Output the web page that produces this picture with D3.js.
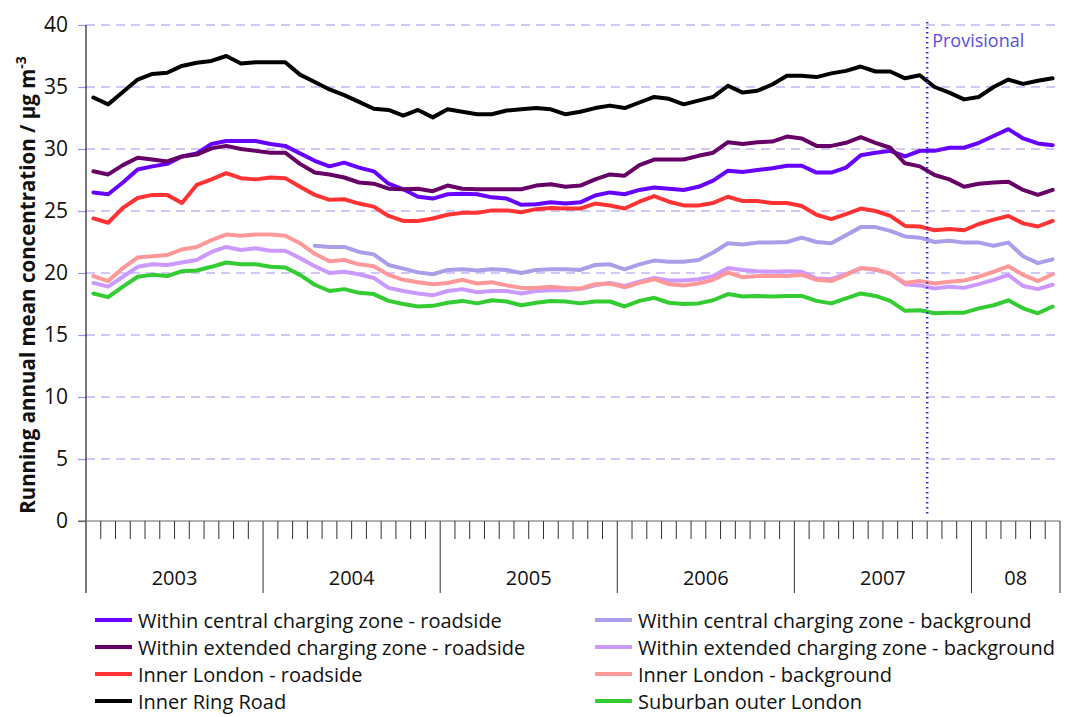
<!DOCTYPE html>
<html>
<head>
<meta charset="utf-8">
<script src="https://cdn.jsdelivr.net/npm/d3@7"></script>
<style>
  html, body { margin: 0; padding: 0; background: #fff; }
  svg { display: block; font-family: "Open Sans", "DejaVu Sans", sans-serif; }
</style>
</head>
<body>
<svg id="chart" width="1071" height="717"></svg>
<script>
// Running annual mean concentrations, monthly Jan 2003 – Jun 2008
const years = ["2003", "2004", "2005", "2006", "2007", "08"];
const monthsPerYear = [12, 12, 12, 12, 12, 6];
const yTicks = [0, 5, 10, 15, 20, 25, 30, 35, 40];
const provisionalFromMonth = 57; // Oct 2007

const centralRoadside = [26.5,26.35,27.3,28.35,28.6,28.8,29.4,29.65,30.4,30.65,30.65,30.65,30.4,30.25,29.65,29.05,28.6,28.9,28.5,28.2,27.2,26.75,26.15,26.0,26.35,26.4,26.35,26.1,26.0,25.5,25.55,25.7,25.6,25.7,26.25,26.5,26.35,26.7,26.9,26.8,26.7,26.95,27.45,28.25,28.15,28.3,28.45,28.65,28.65,28.1,28.1,28.5,29.5,29.7,29.85,29.4,29.85,29.85,30.1,30.1,30.5,31.05,31.6,30.85,30.45,30.3];
const centralBackground = [null,null,null,null,null,null,null,null,null,null,null,null,null,null,null,22.2,22.1,22.1,21.7,21.5,20.65,20.35,20.05,19.9,20.25,20.3,20.2,20.3,20.25,20.0,20.25,20.3,20.3,20.25,20.65,20.7,20.3,20.7,21.0,20.9,20.9,21.05,21.65,22.4,22.3,22.45,22.45,22.5,22.85,22.5,22.4,23.05,23.7,23.7,23.4,22.95,22.85,22.5,22.6,22.45,22.45,22.2,22.45,21.35,20.8,21.1];
const extendedRoadside = [28.2,27.95,28.7,29.3,29.15,29.0,29.4,29.55,30.05,30.25,30.0,29.85,29.7,29.7,28.8,28.1,27.95,27.7,27.3,27.2,26.8,26.75,26.8,26.6,27.05,26.8,26.75,26.75,26.75,26.75,27.05,27.15,26.95,27.05,27.55,27.95,27.85,28.7,29.15,29.15,29.15,29.45,29.7,30.55,30.4,30.55,30.6,31.0,30.85,30.25,30.25,30.5,30.95,30.5,30.1,28.85,28.6,27.9,27.55,26.95,27.2,27.3,27.35,26.7,26.3,26.7];
const extendedBackground = [19.2,18.9,19.7,20.5,20.7,20.65,20.85,21.05,21.7,22.1,21.85,22.0,21.8,21.8,21.2,20.55,20.0,20.1,19.9,19.6,18.8,18.55,18.35,18.2,18.55,18.7,18.45,18.55,18.55,18.35,18.55,18.6,18.6,18.7,19.0,19.2,18.95,19.3,19.6,19.4,19.4,19.5,19.75,20.4,20.25,20.15,20.1,20.15,20.1,19.55,19.5,19.9,20.4,20.25,19.95,19.1,19.0,18.75,18.9,18.8,19.1,19.45,19.85,18.95,18.7,19.05];
const innerRoadside = [24.4,24.05,25.25,26.05,26.3,26.3,25.65,27.1,27.55,28.05,27.65,27.55,27.7,27.65,26.95,26.3,25.9,25.95,25.6,25.35,24.6,24.2,24.2,24.4,24.7,24.85,24.85,25.05,25.05,24.9,25.15,25.25,25.2,25.2,25.6,25.45,25.2,25.75,26.2,25.75,25.45,25.45,25.65,26.15,25.8,25.8,25.65,25.65,25.4,24.7,24.35,24.75,25.2,25.0,24.6,23.8,23.75,23.45,23.55,23.45,23.95,24.3,24.6,24.0,23.75,24.2];
const innerBackground = [19.75,19.35,20.4,21.25,21.35,21.45,21.9,22.1,22.65,23.1,23.0,23.1,23.1,23.0,22.4,21.55,20.95,21.05,20.7,20.55,19.85,19.45,19.25,19.1,19.2,19.45,19.15,19.25,19.0,18.8,18.8,18.9,18.8,18.75,19.1,19.15,18.85,19.2,19.5,19.1,19.0,19.15,19.45,20.05,19.65,19.75,19.75,19.75,19.85,19.45,19.35,19.85,20.4,20.3,19.95,19.2,19.35,19.15,19.3,19.4,19.7,20.1,20.55,19.85,19.35,19.9];
const innerRingRoad = [34.15,33.6,34.6,35.6,36.05,36.15,36.7,36.95,37.1,37.5,36.9,37.0,37.0,37.0,36.0,35.4,34.8,34.35,33.8,33.25,33.15,32.7,33.15,32.55,33.2,33.0,32.8,32.8,33.1,33.2,33.3,33.2,32.8,33.0,33.3,33.5,33.3,33.75,34.2,34.05,33.6,33.9,34.2,35.1,34.55,34.7,35.2,35.9,35.9,35.8,36.1,36.3,36.65,36.25,36.25,35.7,35.95,35.0,34.55,34.0,34.2,35.0,35.6,35.25,35.5,35.7];
const suburbanOuter = [18.35,18.05,18.9,19.7,19.85,19.75,20.15,20.2,20.5,20.85,20.7,20.7,20.5,20.45,19.85,19.05,18.55,18.7,18.4,18.3,17.75,17.5,17.3,17.35,17.6,17.75,17.55,17.8,17.7,17.4,17.6,17.75,17.7,17.55,17.7,17.7,17.3,17.75,18.0,17.6,17.5,17.55,17.8,18.3,18.1,18.15,18.1,18.15,18.15,17.75,17.55,17.95,18.35,18.15,17.75,16.95,17.0,16.75,16.8,16.8,17.15,17.4,17.8,17.15,16.75,17.3];

const seriesNames = [
  "Within central charging zone - roadside",
  "Within central charging zone - background",
  "Within extended charging zone - roadside",
  "Within extended charging zone - background",
  "Inner London - roadside",
  "Inner London - background",
  "Inner Ring Road",
  "Suburban outer London"
];
const seriesValues = [centralRoadside, centralBackground, extendedRoadside, extendedBackground,
                      innerRoadside, innerBackground, innerRingRoad, suburbanOuter];
const seriesColors = ["#6600ff", "#a99ee8", "#660066", "#cc99ff", "#ff3333", "#ff9999", "#000000", "#33cc33"];

const series = seriesNames.map((name, k) => ({ name, values: seriesValues[k], color: seriesColors[k] }));
const totalMonths = d3.sum(monthsPerYear);

const svg = d3.select("#chart");
const plotLeft = 86, plotRight = 1060, plotTop = 25, plotBottom = 521, axisFoot = 593;

const x = d3.scaleLinear().domain([0, totalMonths]).range([plotLeft, plotRight]);
const y = d3.scaleLinear().domain([0, 40]).range([plotBottom, plotTop]);

// Horizontal dashed gridlines
svg.append("g")
  .selectAll("line")
  .data(yTicks.filter(v => v > 0))
  .join("line")
  .attr("x1", plotLeft).attr("x2", plotRight)
  .attr("y1", d => y(d)).attr("y2", d => y(d))
  .attr("stroke", "#a690f0")
  .attr("stroke-width", 1.2)
  .attr("stroke-dasharray", "9,6");

// Y axis
const yAxis = d3.axisLeft(y).tickValues(yTicks).tickSize(8).tickPadding(10);
const yg = svg.append("g").attr("transform", `translate(${plotLeft},0)`).call(yAxis);
yg.select(".domain").remove();
yg.selectAll(".tick line").attr("stroke", d => d === 0 ? "#666" : "#a690f0").attr("stroke-width", 1.2);
yg.selectAll(".tick text")
  .attr("font-size", 21).attr("fill", "#111")
  .attr("font-family", "'Open Sans', sans-serif");

svg.append("line")
  .attr("x1", plotLeft).attr("x2", plotLeft)
  .attr("y1", plotTop).attr("y2", axisFoot)
  .attr("stroke", "#222").attr("stroke-width", 1.2);

// X axis: month ticks and year separators
const monthBoundaries = d3.range(0, totalMonths + 1);
const yearStarts = [0];
monthsPerYear.forEach((m, i) => yearStarts.push(yearStarts[i] + m));

svg.append("line")
  .attr("x1", plotLeft - 8).attr("x2", plotRight)
  .attr("y1", plotBottom).attr("y2", plotBottom)
  .attr("stroke", "#666").attr("stroke-width", 1.2);

svg.append("g")
  .selectAll("line")
  .data(monthBoundaries.filter(m => !yearStarts.includes(m)))
  .join("line")
  .attr("x1", d => x(d)).attr("x2", d => x(d))
  .attr("y1", plotBottom).attr("y2", plotBottom + 18)
  .attr("stroke", "#333").attr("stroke-width", 1);

svg.append("g")
  .selectAll("line")
  .data(yearStarts.slice(1))
  .join("line")
  .attr("x1", d => x(d)).attr("x2", d => x(d))
  .attr("y1", plotBottom).attr("y2", axisFoot)
  .attr("stroke", "#333").attr("stroke-width", 1);

svg.append("g")
  .selectAll("text")
  .data(years)
  .join("text")
  .attr("x", (d, i) => x(yearStarts[i] + monthsPerYear[i] / 2))
  .attr("y", 585)
  .attr("text-anchor", "middle")
  .attr("font-size", 20)
  .attr("fill", "#111")
  .text(d => d);

// Y axis title
svg.append("text")
  .attr("transform", `translate(35,${(plotTop + plotBottom) / 2 + 12}) rotate(-90)`)
  .attr("text-anchor", "middle")
  .attr("font-size", 20.5)
  .attr("font-weight", "bold")
  .attr("fill", "#111")
  .call(t => {
    t.append("tspan").text("Running annual mean concentration / µg m");
    t.append("tspan").attr("dy", -9).attr("font-size", 14).text("-3");
  });

// Series lines
const line = d3.line()
  .defined(d => d != null)
  .x((d, i) => x(i + 0.5))
  .y(d => y(d));

svg.append("g")
  .selectAll("path")
  .data(series)
  .join("path")
  .attr("d", s => line(s.values))
  .attr("fill", "none")
  .attr("stroke", s => s.color)
  .attr("stroke-width", 4)
  .attr("stroke-linejoin", "round")
  .attr("stroke-linecap", "round");

// Provisional marker
svg.append("line")
  .attr("x1", x(provisionalFromMonth)).attr("x2", x(provisionalFromMonth))
  .attr("y1", 22).attr("y2", 514)
  .attr("stroke", "#3333cc")
  .attr("stroke-width", 2.5)
  .attr("stroke-dasharray", "1.5,3.5");

svg.append("text")
  .attr("x", x(provisionalFromMonth) + 5)
  .attr("y", 47)
  .attr("font-size", 18)
  .attr("fill", "#5a4de0")
  .text("Provisional");

// Legend, two columns
const legend = svg.append("g")
  .selectAll("g")
  .data(series)
  .join("g")
  .attr("transform", (d, i) => `translate(${i % 2 === 0 ? 95 : 595},${620 + Math.floor(i / 2) * 27})`);

legend.append("line")
  .attr("x1", 0).attr("x2", 37)
  .attr("stroke", d => d.color)
  .attr("stroke-width", 4);

legend.append("text")
  .attr("x", 43)
  .attr("y", 8)
  .attr("font-size", 20)
  .attr("fill", "#111")
  .text(d => d.name);
</script>
</body>
</html>
